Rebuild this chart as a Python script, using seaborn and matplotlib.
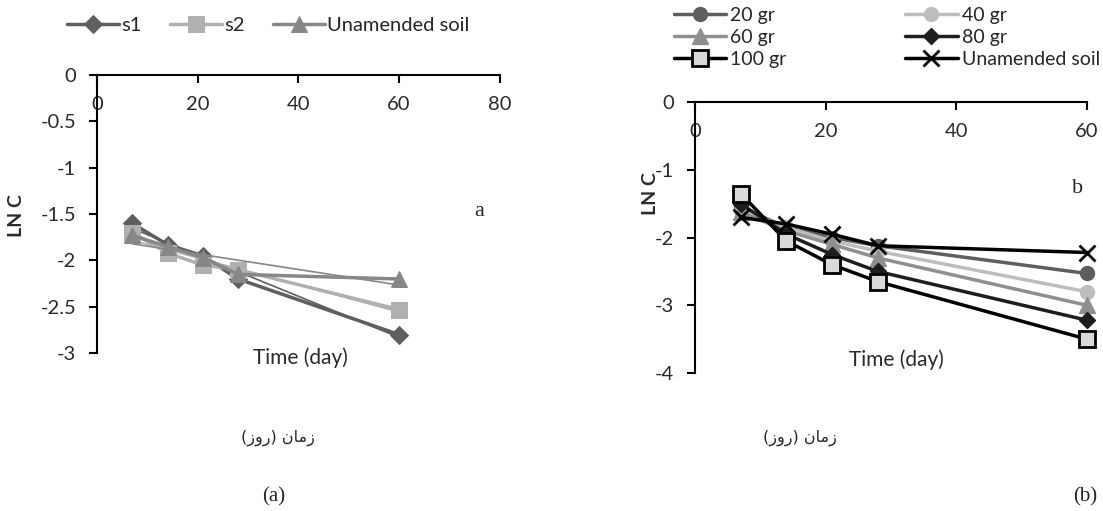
import numpy as np
import pandas as pd
import matplotlib
matplotlib.use('Agg')
import matplotlib.pyplot as plt
import seaborn as sns
from matplotlib.ticker import FuncFormatter

# data
days = [7, 14, 21, 28, 60]

# panel a
s1 = [-1.60, -1.83, -1.95, -2.20, -2.80]
s2 = [-1.70, -1.92, -2.05, -2.10, -2.53]
unamended_a = [-1.73, -1.85, -1.97, -2.15, -2.20]

# panel b
g20 = [-1.55, -1.85, -2.00, -2.12, -2.53]
g40 = [-1.60, -1.85, -2.05, -2.20, -2.80]
g60 = [-1.62, -1.90, -2.10, -2.30, -3.00]
g80 = [-1.50, -1.95, -2.25, -2.50, -3.22]
g100 = [-1.35, -2.05, -2.40, -2.65, -3.50]
unamended_b = [-1.70, -1.80, -1.95, -2.12, -2.22]

yticks_a = [0, -0.5, -1, -1.5, -2, -2.5, -3]
yticks_b = [0, -1, -2, -3, -4]
xticks_a = [0, 20, 40, 60, 80]
xticks_b = [0, 20, 40, 60]

persian_label = "(ﺯﻭﺭ) ﻥﺎﻣﺯ"  # زمان (روز), in visual order

sns.set_style('white')
plt.rcParams['font.family'] = ['Lato', 'DejaVu Sans']
plt.rcParams['axes.unicode_minus'] = False

fig = plt.figure(figsize=(11.03, 5.11), dpi=100)
ax_a = fig.add_axes([0.088, 0.309, 0.365, 0.544])
ax_b = fig.add_axes([0.630, 0.270, 0.3555, 0.530])

fmt = FuncFormatter(lambda v, p: '%g' % v)


def style_axes(ax, xticks, yticks, xlim):
    ax.set_xlim(*xlim)
    ax.set_ylim(min(yticks), 0)
    ax.set_xticks(xticks)
    ax.set_yticks(yticks)
    ax.xaxis.set_major_formatter(fmt)
    ax.yaxis.set_major_formatter(fmt)
    ax.spines['bottom'].set_position(('data', 0))
    ax.spines['top'].set_visible(False)
    ax.spines['right'].set_visible(False)
    for s in ['bottom', 'left']:
        ax.spines[s].set_color('black')
        ax.spines[s].set_linewidth(1.5)
    ax.tick_params(axis='both', direction='out', length=6, width=1.5,
                   labelsize=14.5, color='black', labelcolor='#2a2a2a')
    ax.tick_params(axis='x', bottom=True, pad=9)
    ax.tick_params(axis='y', left=True, pad=9)
    ax.set_xlabel('')
    ax.set_ylabel('')


# ---- panel a
series_a = [
    ('s1', s1, '#5f5f5f', 'D', 9),
    ('s2', s2, '#b0b0b0', 's', 11),
    ('Unamended soil', unamended_a, '#878787', '^', 11),
]
for name, vals, col, mk, ms in series_a:
    df = pd.DataFrame({'day': days, 'lnc': vals})
    sns.lineplot(data=df, x='day', y='lnc', ax=ax_a, color=col, lw=2.5,
                 marker=mk, markersize=ms, markeredgecolor=col, label=name,
                 clip_on=False)
    # linear trend line
    sns.regplot(data=df, x='day', y='lnc', ax=ax_a, scatter=False, ci=None,
                color=col, line_kws={'lw': 1.2}, truncate=True)

style_axes(ax_a, xticks_a, yticks_a, (0, 80))
ax_a.legend_.remove()
h, l = ax_a.get_legend_handles_labels()
fig.legend(h[:3], l[:3], loc='center', bbox_to_anchor=(0.243, 0.951), ncol=3,
           frameon=False, fontsize=14.5, handlelength=2.6, columnspacing=1.4,
           handletextpad=0.1)
ax_a.text(0.504, -0.015, 'Time (day)', transform=ax_a.transAxes, ha='center',
          va='center', fontsize=15, color='#2a2a2a')
ax_a.text(-0.199, 0.496, 'LN C', transform=ax_a.transAxes, ha='center',
          va='center', rotation=90, fontsize=14, fontweight='bold', color='#2a2a2a')
ax_a.text(0.95, 0.511, 'a', transform=ax_a.transAxes, ha='center', va='center',
          fontsize=16, family='Liberation Serif')

# ---- panel b
series_b = [
    ('20 gr', g20, '#5e5e5e', 'o', 10, '#5e5e5e'),
    ('40 gr', g40, '#bdbdbd', 'o', 10, '#bdbdbd'),
    ('60 gr', g60, '#8f8f8f', '^', 11, '#8f8f8f'),
    ('80 gr', g80, '#1e1e1e', 'D', 8, '#1e1e1e'),
    ('100 gr', g100, '#000000', 's', 12, '#d9d9d9'),
    ('Unamended soil', unamended_b, '#000000', 'x', 11, '#000000'),
]
for name, vals, col, mk, ms, face in series_b:
    df = pd.DataFrame({'day': days, 'lnc': vals})
    sns.lineplot(data=df, x='day', y='lnc', ax=ax_b, color=col, lw=2.5,
                 marker=mk, markersize=ms, markerfacecolor=face,
                 markeredgecolor=col, markeredgewidth=2 if mk in 'sx' else 1,
                 label=name, clip_on=False)

style_axes(ax_b, xticks_b, yticks_b, (0, 60))
ax_b.legend_.remove()
h, l = ax_b.get_legend_handles_labels()
# row-major order for a 2-column legend
order = [0, 2, 4, 1, 3, 5]
fig.legend([h[i] for i in order], [l[i] for i in order], loc='center',
           bbox_to_anchor=(0.804, 0.927), ncol=2, frameon=False, fontsize=14,
           handlelength=2.7, columnspacing=6.1, handletextpad=0.2,
           labelspacing=0.25)
ax_b.text(0.515, 0.048, 'Time (day)', transform=ax_b.transAxes, ha='center',
          va='center', fontsize=15, color='#2a2a2a')
ax_b.text(-0.112, 0.664, 'LN C', transform=ax_b.transAxes, ha='center',
          va='center', rotation=90, fontsize=14, fontweight='bold', color='#2a2a2a')
ax_b.text(0.977, 0.683, 'b', transform=ax_b.transAxes, ha='center', va='center',
          fontsize=16, family='Liberation Serif')

# captions
fig.text(0.252, 0.143, persian_label, ha='center', va='center', fontsize=11.5,
         family='DejaVu Sans')
fig.text(0.725, 0.143, persian_label, ha='center', va='center', fontsize=11.5,
         family='DejaVu Sans')
fig.text(0.248, 0.027, '(a)', ha='center', va='center', fontsize=15,
         family='Liberation Serif')
fig.text(0.984, 0.027, '(b)', ha='center', va='center', fontsize=15,
         family='Liberation Serif')

fig.savefig('out.png', dpi=100)
